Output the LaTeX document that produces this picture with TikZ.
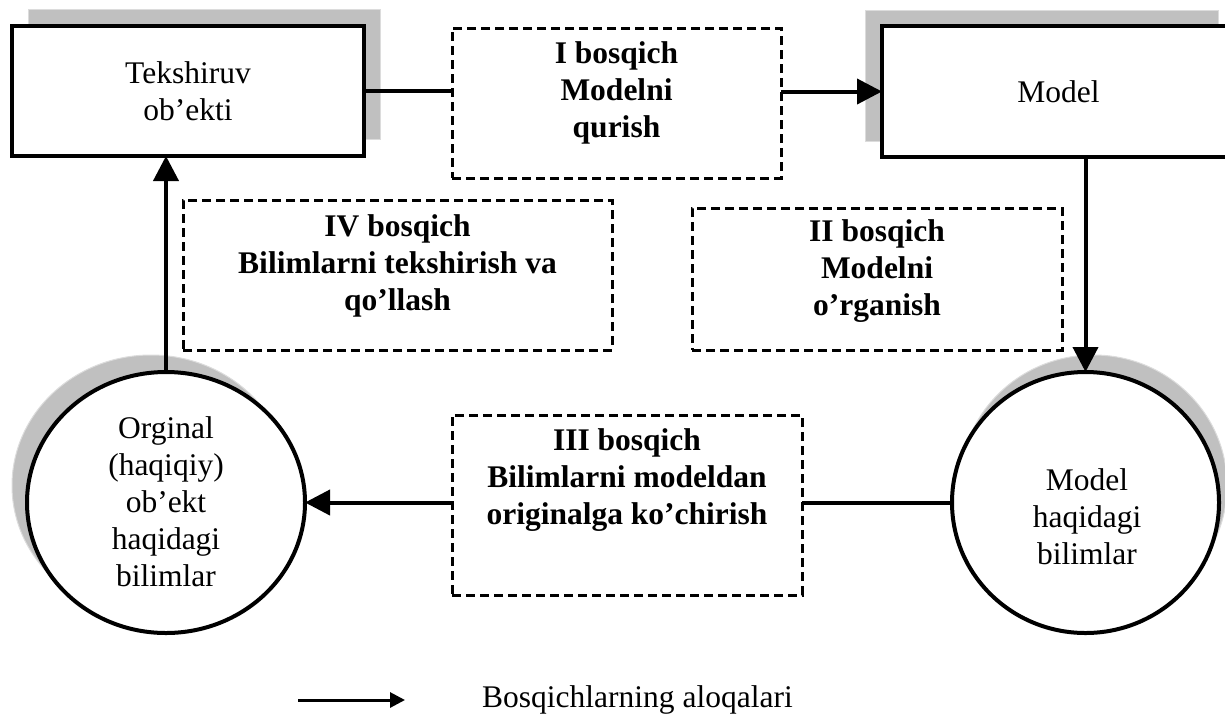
\documentclass[tikz,border=0pt]{standalone}
\usepackage{fontspec}
\setmainfont{Liberation Serif}
\usetikzlibrary{arrows.meta,shadows,calc,shapes.geometric}
\definecolor{shadowgray}{HTML}{C0C0C0}
\definecolor{shadowedge}{HTML}{DCDCDC}
\begin{document}
\begin{tikzpicture}[x=1pt,y=-1pt,
  txt/.style={font={\fontsize{31.5}{37}\selectfont}, align=center, inner sep=0pt},
  btxt/.style={font={\fontsize{31.5}{37}\selectfont\bfseries}, align=center, inner sep=0pt},
  solidbox/.style={rectangle, draw, line width=4pt, fill=white, inner sep=0pt, outer sep=0pt,
    font={\fontsize{31.5}{37}\selectfont}, align=center},
  stagebox/.style={rectangle, draw, line width=3pt, dash pattern=on 9pt off 5pt, inner sep=0pt, outer sep=0pt},
  knowcirc/.style={ellipse, draw, line width=4pt, fill=white, inner sep=0pt, outer sep=0pt},
  shade/.style 2 args={general shadow={fill=shadowgray, draw=shadowedge, line width=1pt, shadow xshift=#1, shadow yshift=#2}},
  link/.style={line width=4pt},
  arr/.style={link, -{Triangle[length=25pt,width=25pt]}},
]
\useasboundingbox (0,0) rectangle (1225,713);

% solid boxes
\node[solidbox, minimum width=352pt, minimum height=130pt, shade={16pt}{17pt}] (tek) at (188,91) {Tekshiruv\\ob’ekti};
\node[solidbox, minimum width=353pt, minimum height=131pt, shade={-17pt}{16pt}] (model) at (1058.5,91.5) {Model};

% knowledge circles
\node[knowcirc, minimum width=278pt, minimum height=261pt, shade={-15pt}{17pt}] (orig) at (166,502.5) {};
\node[knowcirc, minimum width=267pt, minimum height=261pt, shade={8pt}{17pt}] (mh) at (1085.5,502.5) {};
\node[txt] (origtxt) at (166,502) {Orginal\\(haqiqiy)\\ob’ekt\\haqidagi\\bilimlar};
\node[txt] (mhtxt) at (1087,517) {Model\\haqidagi\\bilimlar};

% stage boxes
\node[stagebox, minimum width=329pt, minimum height=150pt] (s1) at (616.5,103) {};
\node[stagebox, minimum width=429pt, minimum height=150pt] (s4) at (397.5,275) {};
\node[stagebox, minimum width=370pt, minimum height=142pt] (s2) at (877,279) {};
\node[stagebox, minimum width=350pt, minimum height=180pt] (s3) at (627,505) {};
\node[btxt] (t1) at (616.5,92.5) {I bosqich\\Modelni\\qurish};
\node[btxt] (t4) at (397.5,265.5) {IV bosqich\\Bilimlarni tekshirish va\\qo’llash};
\node[btxt] (t2) at (877,271.5) {II bosqich\\Modelni\\o’rganish};
\node[btxt] (t3) at (627,480.5) {III bosqich\\Bilimlarni modeldan\\originalga ko’chirish};

% connectors
\draw[link] (tek.east) -- (tek.east -| s1.west);
\draw[arr] (model.west -| s1.east) -- (model.west);
\draw[arr] (model.south -| mh.north) -- (mh.north);
\draw[link] (mh.west) -- (mh.west -| s3.east);
\draw[arr] (orig.east -| s3.west) -- (orig.east);
\draw[arr] (orig.north) -- (orig.north |- tek.south);

% legend
\coordinate (l1) at (298,700);
\coordinate (l2) at (405,700);
\draw[line width=3pt, -{Triangle[length=15pt,width=15pt]}] (l1) -- (l2);
\node[txt, anchor=base west] (legtxt) at (482,707) {Bosqichlarning aloqalari};
\end{tikzpicture}
\end{document}
